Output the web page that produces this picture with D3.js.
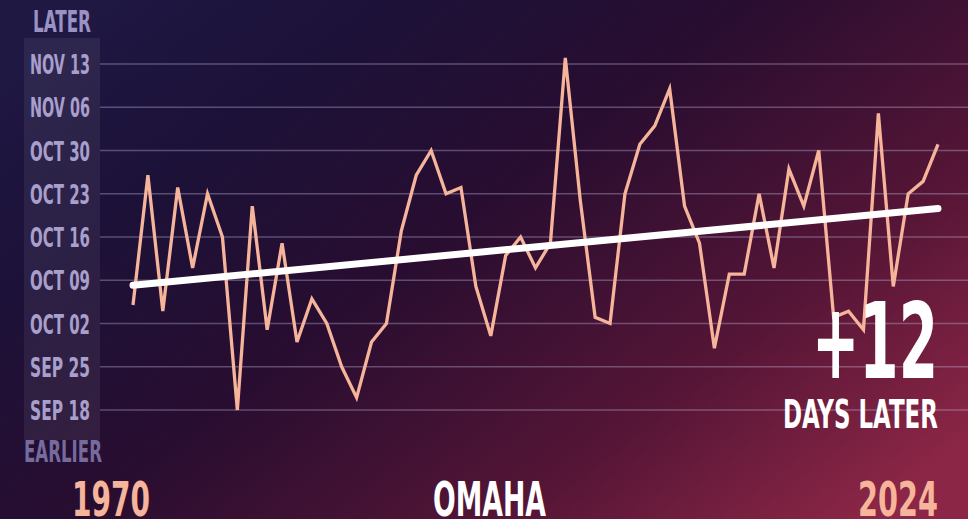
<!DOCTYPE html>
<html>
<head>
<meta charset="utf-8">
<script src="https://cdn.jsdelivr.net/npm/d3@7"></script>
<style>
  html, body { margin: 0; padding: 0; background: #1e1740; overflow: hidden; }
  svg { display: block; }
  text { font-family: "Liberation Sans Narrow", "DejaVu Sans Condensed", "Roboto", sans-serif; font-weight: bold; }
</style>
</head>
<body>
<svg id="chart" width="968" height="519"></svg>
<script>
// ---- DATA ----
// First-freeze date, expressed as days after Sep 1 (Sep 18 = 17, Nov 13 = 73)
const years = d3.range(1970, 2025);
const freezeDay = [
  34, 55, 33, 53, 40, 52, 45, 17, 50, 30,
  44, 28, 35, 31, 24, 19, 28, 31, 46, 55,
  59, 52, 53, 37, 29, 42, 45, 40, 44, 74,
  51, 32, 31, 52, 60, 63, 69, 50, 44, 27,
  39, 39, 52, 40, 56, 50, 59, 32, 33, 30,
  65, 37, 52, 54, 60
];
const trendYears = [1970, 2024];
const trendValues = [37.2, 49.6];
const tickValues = [17, 24, 31, 38, 45, 52, 59, 66, 73];
const tickLabels = ["SEP 18", "SEP 25", "OCT 02", "OCT 09", "OCT 16", "OCT 23", "OCT 30", "NOV 06", "NOV 13"];
const cityName = "OMAHA";
const changeText = "+12";
const changeSub = "DAYS LATER";
const topLabel = "LATER";
const bottomLabel = "EARLIER";

// ---- CHART ----
const W = 968, H = 519;
const svg = d3.select("#chart");
const defs = svg.append("defs");

const bg = defs.append("linearGradient").attr("id", "bg")
  .attr("x1", "0").attr("y1", "0.15").attr("x2", "1").attr("y2", "0.85");
bg.append("stop").attr("offset", "0").attr("stop-color", "#1f1843");
bg.append("stop").attr("offset", "0.2").attr("stop-color", "#1c1138");
bg.append("stop").attr("offset", "0.45").attr("stop-color", "#280d30");
bg.append("stop").attr("offset", "0.75").attr("stop-color", "#551536");
bg.append("stop").attr("offset", "1").attr("stop-color", "#8c2646");
svg.append("rect").attr("width", W).attr("height", H).attr("fill", "url(#bg)");

const x = d3.scaleLinear().domain([1970, 2024]).range([133, 938]);
const y = d3.scaleLinear().domain([17, 73]).range([410, 64]);

// condensed text helper: places text so it spans a given width, anchored left or right
function fitText(g, str, px, py, size, width, anchor, fill) {
  const t = g.append("text").attr("font-size", size).attr("fill", fill).text(str);
  const natural = t.node().getComputedTextLength();
  const sx = width / natural;
  const left = anchor === "end" ? px - width : px;
  t.attr("transform", `translate(${left},${py}) scale(${sx},1)`);
  return t;
}

// label band
svg.append("rect").attr("x", 24).attr("y", 38).attr("width", 76).attr("height", 402)
  .attr("fill", "#ffffff").attr("opacity", 0.065);

// gridlines
svg.append("g").selectAll("line").data(tickValues).join("line")
  .attr("x1", 100).attr("x2", W)
  .attr("y1", d => y(d)).attr("y2", d => y(d))
  .attr("stroke", "#c9bfe6").attr("stroke-opacity", 0.35).attr("stroke-width", 1.3);

// tick labels
const tg = svg.append("g");
tickValues.forEach((v, i) => fitText(tg, tickLabels[i], 90, y(v) + 10, 27, 60, "end", "#a89fcc"));

fitText(svg, topLabel, 33, 32, 30, 58, "start", "#9a92c4");
fitText(svg, bottomLabel, 24, 462, 30, 78, "start", "#857cb0").attr("opacity", 0.85);

// data line
const line = d3.line().x((d, i) => x(years[i])).y(d => y(d));
svg.append("path").datum(freezeDay)
  .attr("d", line)
  .attr("fill", "none").attr("stroke", "#f6b49a").attr("stroke-width", 3.3)
  .attr("stroke-linejoin", "miter");

// trend line
svg.append("path").datum(trendValues)
  .attr("d", d3.line().x((d, i) => x(trendYears[i])).y(d => y(d)))
  .attr("fill", "none").attr("stroke", "#ffffff").attr("stroke-width", 7)
  .attr("stroke-linecap", "round");

// change annotation
fitText(svg, changeText, 938, 378, 106, 126, "end", "#ffffff");
fitText(svg, changeSub, 938, 428, 39, 155, "end", "#ffffff");

// bottom labels
fitText(svg, String(years[0]), 72, 516, 48, 78, "start", "#f6b49a");
fitText(svg, cityName, 433, 516, 48, 113, "start", "#ffffff");
fitText(svg, String(years[years.length - 1]), 938, 516, 48, 80, "end", "#f6b49a");
</script>
</body>
</html>
